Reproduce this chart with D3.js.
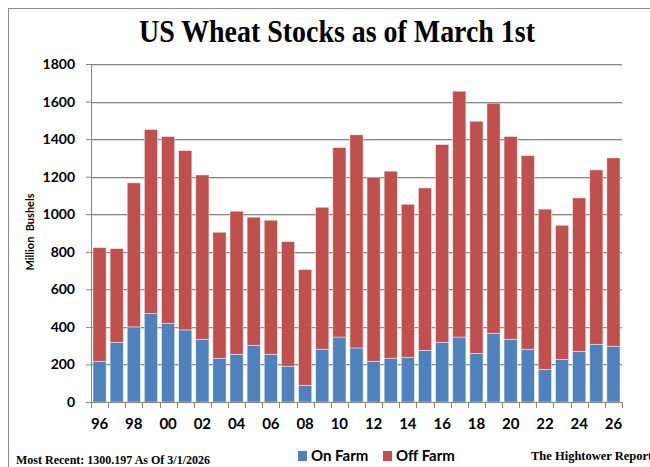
<!DOCTYPE html>
<html>
<head>
<meta charset="utf-8">
<script src="https://cdnjs.cloudflare.com/ajax/libs/d3/7.8.5/d3.min.js"></script>
<style>
  body { margin: 0; background: #fff; }
  .tickText { font-family: Lato, "Open Sans", sans-serif; font-weight: bold; fill: #000; }
  .serif { font-family: "Liberation Serif", "DejaVu Serif", serif; font-weight: bold; fill: #000; }
</style>
</head>
<body>
<div class="chart"></div>
<script>
// years (Mar 1) 1996 - 2026
var years = ["96","97","98","99","00","01","02","03","04","05","06","07","08","09","10",
  "11","12","13","14","15","16","17","18","19","20","21","22","23","24","25","26"];
var onFarm = [217, 318, 400, 471, 419, 384, 334, 233, 254, 302, 254, 190, 89, 281, 346,
  288, 217, 233, 238, 275, 318, 346, 259, 366, 334, 281, 174, 227, 270, 307, 297];
var offFarm = [605, 499, 767, 980, 995, 955, 875, 671, 762, 682, 714, 664, 616, 756, 1009,
  1135, 980, 996, 815, 865, 1053, 1309, 1236, 1225, 1080, 1031, 853, 714, 817, 929, 1003];
var yTicks = [0, 200, 400, 600, 800, 1000, 1200, 1400, 1600, 1800];
var seriesNames = ["On Farm", "Off Farm"];
var seriesColors = ["#4f81bd", "#c0504d"];

var svgWidth = 650;
var svgHeight = 467;

var margin = { top: 64, right: 28, bottom: 65, left: 91 };
var width = svgWidth - margin.left - margin.right;
var height = svgHeight - margin.top - margin.bottom;

var svg = d3.select(".chart")
  .append("svg")
  .attr("width", svgWidth)
  .attr("height", svgHeight);

// outer frame
svg.append("rect")
  .attr("x", 8.5)
  .attr("y", 8.5)
  .attr("width", 700)
  .attr("height", 500)
  .attr("fill", "none")
  .attr("stroke", "#8c8c8c");

svg.append("text")
  .attr("class", "serif")
  .attr("x", 337)
  .attr("y", 42)
  .attr("text-anchor", "middle")
  .attr("font-size", 31)
  .attr("textLength", 396)
  .attr("lengthAdjust", "spacingAndGlyphs")
  .text("US Wheat Stocks as of March 1st");

var chartGroup = svg.append("g")
  .attr("transform", `translate(${margin.left}, ${margin.top})`);

var xScale = d3.scaleBand()
  .domain(years)
  .range([0, width])
  .paddingInner(0.23)
  .paddingOuter(0.115);

var yScale = d3.scaleLinear()
  .domain([0, 1800])
  .range([height, 0]);

// gridlines
var grid = chartGroup.append("g");
grid.selectAll(".gl2")
  .data(yTicks.slice(1))
  .enter()
  .append("line")
  .attr("x1", 0)
  .attr("x2", width)
  .attr("y1", d => Math.round(yScale(d)) + 1.5)
  .attr("y2", d => Math.round(yScale(d)) + 1.5)
  .attr("stroke", "#d9d9d9");
grid.selectAll(".gl")
  .data(yTicks.slice(1))
  .enter()
  .append("line")
  .attr("x1", 0)
  .attr("x2", width)
  .attr("y1", d => Math.round(yScale(d)) + 0.5)
  .attr("y2", d => Math.round(yScale(d)) + 0.5)
  .attr("stroke", "#878787");

// stacked bars
var rows = years.map((y, i) => ({ year: y, on: onFarm[i], off: offFarm[i] }));
var stack = d3.stack().keys(["on", "off"])(rows);

chartGroup.selectAll(".series")
  .data(stack)
  .enter()
  .append("g")
  .attr("fill", (d, i) => seriesColors[i])
  .selectAll("rect")
  .data(d => d)
  .enter()
  .append("rect")
  .attr("x", d => xScale(d.data.year))
  .attr("width", xScale.bandwidth())
  .attr("y", d => yScale(d[1]))
  .attr("height", d => yScale(d[0]) - yScale(d[1]))
  .attr("stroke", "rgba(255,255,255,0.55)")
  .attr("stroke-width", 0.8);

// y axis
var leftAxis = d3.axisLeft(yScale)
  .tickValues(yTicks)
  .tickFormat(d3.format("d"))
  .tickSize(5)
  .tickPadding(11);

var yAxis = chartGroup.append("g")
  .call(leftAxis);
yAxis.select(".domain").attr("stroke", "#878787");
yAxis.selectAll(".tick line").attr("stroke", "#878787");
yAxis.selectAll(".tick text")
  .attr("class", "tickText")
  .attr("font-size", 14);

// x axis: ticks between categories, labels every other year
var step = xScale.step();
var bounds = d3.range(years.length + 1).map(i => i * step);

var xAxis = chartGroup.append("g")
  .attr("transform", `translate(0, ${height})`);
xAxis.append("line")
  .attr("x1", 0)
  .attr("x2", width)
  .attr("y1", 0.5)
  .attr("y2", 0.5)
  .attr("stroke", "#878787");
xAxis.selectAll(".xt")
  .data(bounds)
  .enter()
  .append("line")
  .attr("x1", d => Math.round(d) + 0.5)
  .attr("x2", d => Math.round(d) + 0.5)
  .attr("y1", 0)
  .attr("y2", 6)
  .attr("stroke", "#878787");
xAxis.selectAll(".xl")
  .data(years.filter((d, i) => i % 2 == 0))
  .enter()
  .append("text")
  .attr("class", "tickText")
  .attr("x", d => xScale(d) + xScale.bandwidth() / 2)
  .attr("y", 27)
  .attr("text-anchor", "middle")
  .attr("font-size", 15)
  .text(d => d);

svg.append("text")
  .attr("class", "tickText")
  .attr("transform", "translate(34, 232) rotate(-90)")
  .attr("text-anchor", "middle")
  .attr("font-size", 11)
  .attr("xml:space", "preserve")
  .text("Million  Bushels");

// legend
var legend = svg.selectAll(".legend")
  .data(seriesNames)
  .enter()
  .append("g")
  .attr("transform", (d, i) => `translate(${298 + i * 85}, 451)`);
legend.append("rect")
  .attr("width", 9)
  .attr("height", 10)
  .attr("fill", (d, i) => seriesColors[i]);
legend.append("text")
  .attr("class", "tickText")
  .attr("x", 13)
  .attr("y", 10)
  .attr("font-size", 15)
  .text(d => d);

svg.append("text")
  .attr("class", "serif")
  .attr("x", 16)
  .attr("y", 464)
  .attr("font-size", 12)
  .text("Most Recent: 1300.197 As Of 3/1/2026");

svg.append("text")
  .attr("class", "serif")
  .attr("x", 531)
  .attr("y", 460)
  .attr("font-size", 12.5)
  .text("The Hightower Report");
</script>
</body>
</html>
